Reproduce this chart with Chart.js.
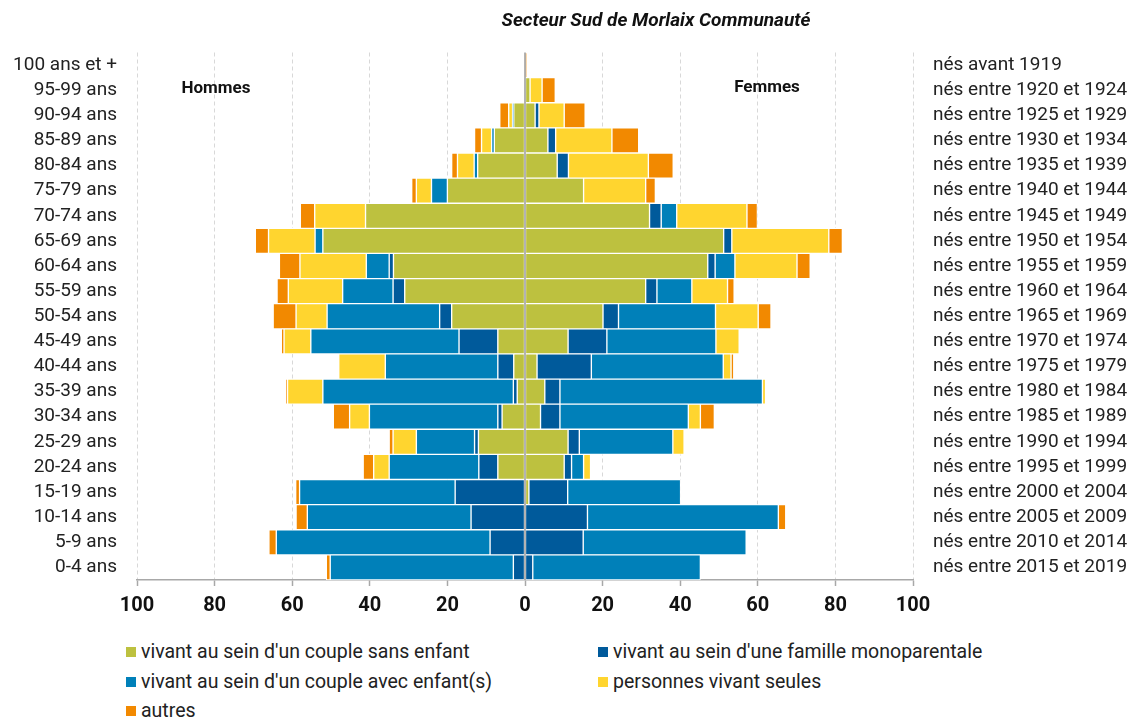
<!DOCTYPE html>
<html lang="fr">
<head>
<meta charset="utf-8">
<title>Secteur Sud de Morlaix Communauté</title>
<script src="https://cdn.jsdelivr.net/npm/chart.js@4/dist/chart.umd.min.js"></script>
<style>
    html, body { margin: 0; padding: 0; background: #fff; }
    #wrap { position: relative; width: 1136px; height: 718px; font-family: Roboto, sans-serif; }
    #pyramid { position: absolute; left: 0; top: 0; }
    .leg { position: absolute; font-size: 19.5px; color: #222; line-height: 20px; white-space: nowrap; }
    .leg span { display: inline-block; width: 10px; height: 10px; margin-right: 5px; vertical-align: 1px; }
</style>
</head>
<body>
<div id="wrap">
    <canvas id="pyramid" width="1136" height="630"></canvas>
    <div id="legend"></div>
</div>
<script>
// age groups, top to bottom
const ageLabels = ['100 ans et +', '95-99 ans', '90-94 ans', '85-89 ans', '80-84 ans', '75-79 ans',
    '70-74 ans', '65-69 ans', '60-64 ans', '55-59 ans', '50-54 ans', '45-49 ans', '40-44 ans',
    '35-39 ans', '30-34 ans', '25-29 ans', '20-24 ans', '15-19 ans', '10-14 ans', '5-9 ans', '0-4 ans'];
const birthLabels = ['nés avant 1919', 'nés entre 1920 et 1924', 'nés entre 1925 et 1929',
    'nés entre 1930 et 1934', 'nés entre 1935 et 1939', 'nés entre 1940 et 1944',
    'nés entre 1945 et 1949', 'nés entre 1950 et 1954', 'nés entre 1955 et 1959',
    'nés entre 1960 et 1964', 'nés entre 1965 et 1969', 'nés entre 1970 et 1974',
    'nés entre 1975 et 1979', 'nés entre 1980 et 1984', 'nés entre 1985 et 1989',
    'nés entre 1990 et 1994', 'nés entre 1995 et 1999', 'nés entre 2000 et 2004',
    'nés entre 2005 et 2009', 'nés entre 2010 et 2014', 'nés entre 2015 et 2019'];
const seriesNames = ["vivant au sein d'un couple sans enfant", "vivant au sein d'une famille monoparentale",
    "vivant au sein d'un couple avec enfant(s)", 'personnes vivant seules', 'autres'];
const xTicks = [-100, -80, -60, -40, -20, 0, 20, 40, 60, 80, 100];

// Hommes
const hCoupleSans = [0, 0, 2.9, 7.9, 12.2, 20.0, 41.1, 52.1, 33.9, 31.0, 18.9, 7.0, 2.9, 2.0, 5.9, 12.0, 7.0, 0, 0, 0, 0];
const hMonoparent = [0, 0, 0, 0, 0, 0, 0, 0, 1.1, 3.0, 3.1, 10.0, 4.1, 1.0, 1.1, 1.0, 4.9, 18.0, 13.9, 9.0, 3.0];
const hCoupleAvec = [0, 0, 0.3, 0.7, 0.9, 4.1, 0, 2.0, 5.9, 13.0, 29.0, 38.2, 29.0, 49.1, 33.1, 15.0, 23.1, 40.1, 42.2, 55.1, 47.2];
const hSeules = [0, 0, 1.0, 2.6, 4.3, 3.9, 13.1, 12.0, 17.1, 14.0, 8.0, 6.9, 12.0, 9.1, 5.1, 6.0, 4.0, 0, 0, 0, 0];
const hAutres = [0, 0, 2.3, 1.8, 1.5, 1.2, 3.7, 3.4, 5.3, 2.9, 5.9, 0.7, 0, 0.5, 4.2, 1.0, 2.7, 1.0, 2.9, 1.9, 1.0];

// Femmes
const fCoupleSans = [0, 1.3, 2.6, 5.9, 8.3, 15.1, 32.1, 51.2, 47.1, 31.1, 20.1, 11.1, 3.1, 5.1, 4.0, 11.1, 10.1, 1.0, 0, 0, 0];
const fMonoparent = [0, 0, 1.0, 2.0, 2.9, 0, 3.0, 2.1, 1.9, 2.9, 4.0, 10.0, 14.0, 3.9, 5.0, 2.9, 1.9, 10.0, 16.1, 15.0, 2.0];
const fCoupleAvec = [0, 0, 0, 0, 0, 0, 4.0, 0, 5.1, 9.0, 25.0, 28.1, 34.0, 52.2, 33.1, 24.1, 3.1, 29.1, 49.2, 42.0, 43.2];
const fSeules = [0, 3.1, 6.5, 14.5, 20.6, 16.0, 18.1, 25.0, 16.0, 9.2, 11.0, 6.0, 2.0, 0.8, 3.1, 2.9, 1.8, 0, 0, 0, 0];
const fAutres = [0.4, 3.4, 5.4, 6.9, 6.4, 2.5, 2.7, 3.5, 3.4, 1.7, 3.3, 0, 0.7, 0, 3.6, 0, 0, 0, 1.9, 0, 0];

const colors = ['#bdc13f', '#005a9b', '#0080b9', '#ffd52f', '#f28900'];

const menSeries = [hCoupleSans, hMonoparent, hCoupleAvec, hSeules, hAutres];
const womenSeries = [fCoupleSans, fMonoparent, fCoupleAvec, fSeules, fAutres];

const datasets = [];
menSeries.forEach((values, i) => {
    datasets.push({
        label: seriesNames[i],
        data: values.map(v => -v),
        backgroundColor: colors[i],
        borderColor: '#ffffff',
        borderWidth: 1,
        borderSkipped: false,
        stack: 'pop'
    });
});
womenSeries.forEach((values, i) => {
    datasets.push({
        label: seriesNames[i],
        data: values,
        backgroundColor: colors[i],
        borderColor: '#ffffff',
        borderWidth: 1,
        borderSkipped: false,
        stack: 'pop'
    });
});

// title, side captions and the zero line
const decorations = {
    id: 'decorations',
    afterDatasetsDraw(chart) {
        const ctx = chart.ctx;
        const x0 = chart.scales.x.getPixelForValue(0);
        const area = chart.chartArea;
        ctx.save();
        ctx.strokeStyle = '#9a9a9a';
        ctx.lineWidth = 1.5;
        ctx.beginPath();
        ctx.moveTo(x0, area.top);
        ctx.lineTo(x0, area.bottom);
        ctx.stroke();

        ctx.fillStyle = '#111';
        ctx.textAlign = 'center';
        ctx.textBaseline = 'middle';
        ctx.font = 'italic bold 19px Roboto';
        ctx.fillText('Secteur Sud de Morlaix Communauté', 656, 21);
        ctx.font = 'bold 17px Roboto';
        ctx.fillText('Hommes', 216, 89);
        ctx.fillText('Femmes', 767, 88);
        ctx.restore();
    }
};

const ctx = document.getElementById('pyramid').getContext('2d');
new Chart(ctx, {
    type: 'bar',
    data: { labels: ageLabels, datasets: datasets },
    options: {
        indexAxis: 'y',
        responsive: false,
        animation: false,
        layout: { padding: { top: 52.5, left: 0, right: 0, bottom: 0 } },
        datasets: { bar: { barPercentage: 1, categoryPercentage: 1 } },
        plugins: {
            legend: { display: false },
            title: { display: false },
            tooltip: { enabled: false }
        },
        scales: {
            x: {
                stacked: true,
                min: -100,
                max: 100,
                afterBuildTicks: s => { s.ticks = xTicks.map(v => ({ value: v })); },
                afterFit: s => { s.height = 50; },
                ticks: {
                    color: '#111',
                    padding: 8,
                    font: { family: 'Roboto', size: 20, weight: 'bold' },
                    callback: v => Math.abs(v)
                },
                grid: {
                    color: c => (c.tick && c.tick.value === 0) ? 'rgba(0,0,0,0)' : '#d8d8d8',
                    lineWidth: 1,
                    tickColor: '#a8a8a8',
                    tickLength: 6,
                    tickWidth: 1.5,
                    tickBorderDash: []
                },
                border: { display: true, color: '#a8a8a8', width: 1.5, dash: [4, 3] }
            },
            y: {
                stacked: true,
                afterFit: s => { s.width = 137; },
                ticks: { color: '#222', padding: 20, autoSkip: false, font: { family: 'Roboto', size: 19 } },
                grid: { display: false, drawTicks: false },
                border: { display: false }
            },
            y2: {
                type: 'category',
                position: 'right',
                labels: birthLabels,
                offset: true,
                afterFit: s => { s.width = 223; },
                ticks: { color: '#222', padding: 20, autoSkip: false, font: { family: 'Roboto', size: 19 } },
                grid: { display: false, drawTicks: false },
                border: { display: false }
            }
        }
    },
    plugins: [decorations]
});

// legend in two columns
const legendPos = [[126, 642], [598, 642], [126, 672], [598, 672], [126, 701]];
const legendBox = document.getElementById('legend');
seriesNames.forEach((name, i) => {
    const item = document.createElement('div');
    item.className = 'leg';
    item.style.left = legendPos[i][0] + 'px';
    item.style.top = legendPos[i][1] + 'px';
    item.innerHTML = '<span style="background:' + colors[i] + '"></span>' + name;
    legendBox.appendChild(item);
});
</script>
</body>
</html>
